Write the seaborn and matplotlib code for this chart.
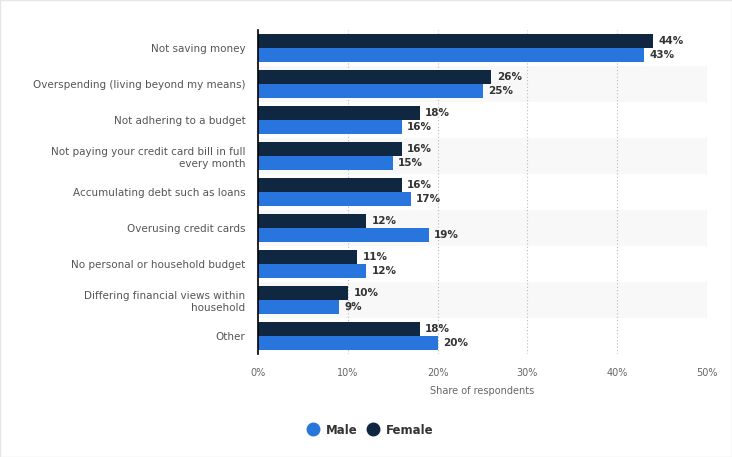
import matplotlib
matplotlib.use("Agg")
import matplotlib.pyplot as plt
import seaborn as sns
import pandas as pd
from matplotlib.lines import Line2D

categories = [
    "Not saving money",
    "Overspending (living beyond my means)",
    "Not adhering to a budget",
    "Not paying your credit card bill in full\nevery month",
    "Accumulating debt such as loans",
    "Overusing credit cards",
    "No personal or household budget",
    "Differing financial views within\nhousehold",
    "Other",
]
female = [44, 26, 18, 16, 16, 12, 11, 10, 18]
male = [43, 25, 16, 15, 17, 19, 12, 9, 20]
x_ticks = [0, 10, 20, 30, 40, 50]
x_tick_labels = ["0%", "10%", "20%", "30%", "40%", "50%"]

df = pd.DataFrame({
    "category": categories * 2,
    "value": female + male,
    "gender": ["Female"] * len(categories) + ["Male"] * len(categories),
})

sns.set_style("white")
plt.rcParams["font.family"] = ["DejaVu Sans"]

fig = plt.figure(figsize=(7.32, 4.57), dpi=100)
ax = fig.add_axes([258 / 732, 1 - 354 / 457, (707 - 258) / 732, (354 - 30) / 457])

colors = {"Female": "#0f2741", "Male": "#2876dd"}

for i in range(len(categories)):
    if i % 2 == 1:
        ax.axhspan(i - 0.5, i + 0.5, color="#f8f8f8", zorder=0, lw=0)

sns.barplot(data=df, y="category", x="value", hue="gender",
            hue_order=["Female", "Male"], palette=colors, orient="h",
            width=0.8, ax=ax, legend=False, saturation=1, zorder=3,
            linewidth=0, edgecolor="none")

for container in ax.containers:
    ax.bar_label(container, labels=[f"{v:.0f}%" for v in container.datavalues],
                 padding=4, fontsize=7.5, fontweight="bold", color="#333333")

ax.set_xlim(0, 50)
ax.set_ylim(len(categories) - 0.5, -0.5)
ax.set_xticks(x_ticks)
ax.set_xticklabels(x_tick_labels)
ax.xaxis.grid(True, linestyle=(0, (1, 2)), color="#bbbbbb", linewidth=0.8, zorder=1)
ax.set_axisbelow(True)
ax.tick_params(axis="x", length=0, labelsize=7, labelcolor="#666666", pad=10)
ax.tick_params(axis="y", length=0, labelsize=7.5, labelcolor="#555555", pad=9)
ax.set_ylabel("")
ax.set_xlabel("Share of respondents", fontsize=7, color="#666666", labelpad=6)
for s in ["top", "right", "bottom"]:
    ax.spines[s].set_visible(False)
ax.spines["left"].set_color("#000000")
ax.spines["left"].set_linewidth(1.2)
ax.spines["left"].set_zorder(5)

handles = [
    Line2D([0], [0], marker="o", color="none", markerfacecolor=colors["Male"],
           markeredgecolor=colors["Male"], markersize=9, label="Male"),
    Line2D([0], [0], marker="o", color="none", markerfacecolor=colors["Female"],
           markeredgecolor=colors["Female"], markersize=9, label="Female"),
]
leg = fig.legend(handles=handles, loc="center", bbox_to_anchor=(369 / 732, 1 - 430 / 457),
                 ncol=2, frameon=False, handletextpad=0.3, columnspacing=0.6,
                 handlelength=1.5, prop={"weight": "bold", "size": 8.5})
for t in leg.get_texts():
    t.set_color("#333333")

fig.patches.append(plt.Rectangle((0, 0), 1, 1, transform=fig.transFigure,
                                 fill=False, edgecolor="#e6e6e6", linewidth=1))

fig.savefig("out.png", dpi=100)
